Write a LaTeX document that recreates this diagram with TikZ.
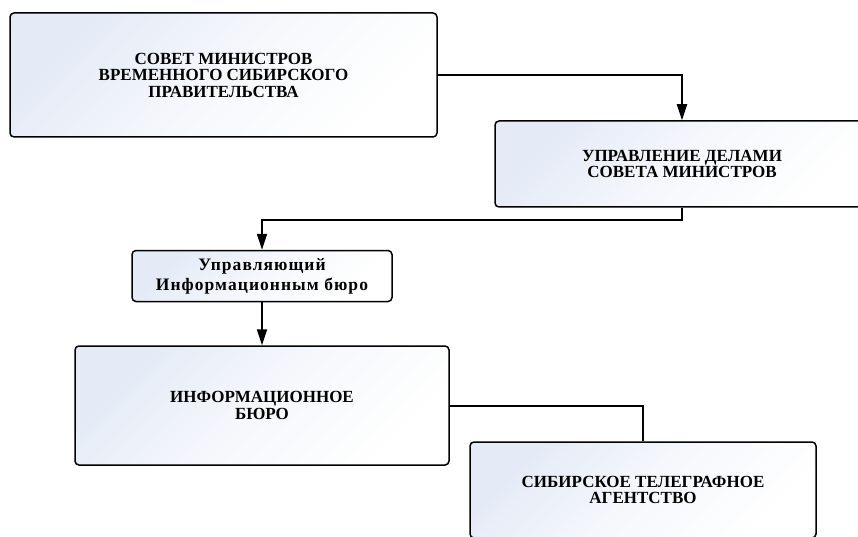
\documentclass[tikz,border=0pt]{standalone}
\usepackage{fontspec}
\setmainfont{Liberation Serif}
\usetikzlibrary{arrows.meta, calc}

\definecolor{boxtint}{RGB}{228,234,246}

\tikzset{
    orgbox/.style={draw=black, line width=1.5pt, rounded corners=4pt,
        top color=boxtint, bottom color=white, middle color=boxtint!35!white, shading angle=45,
        align=center, inner sep=0pt, font=\bfseries\fontsize{17}{16.5}\selectfont},
    link/.style={line width=2pt},
    linkarrow/.style={link, -{Triangle[length=16pt, width=10pt]}}
}

\begin{document}
\begin{tikzpicture}[x=1pt, y=1pt]
    \useasboundingbox (0,0) rectangle (858,-537);

    % Boxes
    \node[orgbox, minimum width=427pt, minimum height=124pt] (sovet) at (223.5,-75)
        {СОВЕТ МИНИСТРОВ\\ВРЕМЕННОГО СИБИРСКОГО\\ПРАВИТЕЛЬСТВА};
    \node[orgbox, minimum width=374pt, minimum height=86pt] (upravlenie) at (682,-164)
        {УПРАВЛЕНИЕ ДЕЛАМИ\\СОВЕТА МИНИСТРОВ};
    \node[orgbox, minimum width=260pt, minimum height=51pt,
          font=\bfseries\fontsize{17.5}{20}\selectfont\addfontfeature{LetterSpace=6}] (upravl) at (262,-276)
        {Управляющий\\Информационным бюро};
    \node[orgbox, minimum width=374pt, minimum height=119pt] (byuro) at (262,-405.5)
        {ИНФОРМАЦИОННОЕ\\БЮРО};
    \node[orgbox, minimum width=346pt, minimum height=96pt] (agentstvo) at (643,-490)
        {СИБИРСКОЕ ТЕЛЕГРАФНОЕ\\АГЕНТСТВО};

    % Connectors
    \draw[linkarrow] (sovet.east) -| (upravlenie.north);
    \draw[linkarrow] (upravlenie.south) -- ++(0,-12) -| (upravl.north);
    \draw[linkarrow] (upravl.south) -- (byuro.north);
    \draw[link] (byuro.east) -| (agentstvo.north);
\end{tikzpicture}
\end{document}
